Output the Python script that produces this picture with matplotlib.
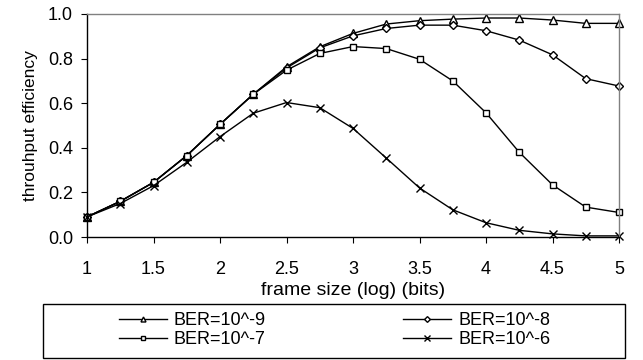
import matplotlib
matplotlib.use('Agg')
import matplotlib.pyplot as plt
from matplotlib.patches import Rectangle

# frame size (log) in bits
frame_size = [1.0, 1.25, 1.5, 1.75, 2.0, 2.25, 2.5, 2.75, 3.0,
              3.25, 3.5, 3.75, 4.0, 4.25, 4.5, 4.75, 5.0]

# throughput efficiency per BER
ber_9 = [0.09, 0.16, 0.245, 0.365, 0.505, 0.64, 0.763, 0.853, 0.913,
         0.955, 0.97, 0.977, 0.982, 0.982, 0.973, 0.958, 0.958]
ber_8 = [0.09, 0.16, 0.245, 0.365, 0.505, 0.64, 0.758, 0.848, 0.902,
         0.935, 0.95, 0.95, 0.925, 0.883, 0.817, 0.71, 0.677]
ber_7 = [0.09, 0.16, 0.245, 0.365, 0.505, 0.64, 0.748, 0.823, 0.854,
         0.845, 0.797, 0.70, 0.557, 0.38, 0.234, 0.134, 0.11]
ber_6 = [0.09, 0.15, 0.23, 0.335, 0.45, 0.555, 0.603, 0.58, 0.487,
         0.354, 0.22, 0.122, 0.064, 0.03, 0.014, 0.005, 0.005]

labels = ['BER=10^-9', 'BER=10^-8', 'BER=10^-7', 'BER=10^-6']
markers = ['^', 'D', 's', 'x']
msizes = [5.5, 4.5, 5, 6]

plt.rcParams['font.family'] = ['Liberation Sans', 'DejaVu Sans']

fig = plt.figure(figsize=(6.43, 3.6), dpi=100)
ax = fig.add_axes([87 / 643, 1 - 237 / 360, (619 - 87) / 643, (237 - 14) / 360])

lines = []
for ys, lab, m, ms in zip([ber_9, ber_8, ber_7, ber_6], labels, markers, msizes):
    ln, = ax.plot(frame_size, ys, color='black', lw=1.0, marker=m, markersize=ms,
                  markerfacecolor='white', markeredgecolor='black',
                  markeredgewidth=1.0, label=lab, clip_on=False)
    lines.append(ln)

ax.set_xlim(1, 5)
ax.set_ylim(0, 1.0)
ax.set_xticks([1, 1.5, 2, 2.5, 3, 3.5, 4, 4.5, 5])
ax.set_xticklabels(['1', '1.5', '2', '2.5', '3', '3.5', '4', '4.5', '5'])
ax.set_yticks([0, 0.2, 0.4, 0.6, 0.8, 1.0])
ax.set_yticklabels(['0.0', '0.2', '0.4', '0.6', '0.8', '1.0'])
ax.tick_params(axis='x', direction='out', length=4, width=0.8, pad=13, labelsize=13)
ax.tick_params(axis='y', direction='out', length=4, width=0.8, pad=6, labelsize=13)

for side in ['top', 'right']:
    ax.spines[side].set_color('#808080')
    ax.spines[side].set_linewidth(1.0)
for side in ['left', 'bottom']:
    ax.spines[side].set_color('black')
    ax.spines[side].set_linewidth(1.0)

ax.set_xlabel('frame size (log) (bits)', fontsize=14, labelpad=3)
ax.set_ylabel('throuhput efficiency', fontsize=12.5, labelpad=7)

# legend box below the plot
fig.patches.append(Rectangle((43 / 643, 2 / 360), (625 - 43) / 643, 54 / 360,
                             transform=fig.transFigure, fill=False,
                             edgecolor='black', lw=1.0))
# column-first fill: 10^-9, 10^-7 | 10^-8, 10^-6
order = [0, 2, 1, 3]
fig.legend(handles=[lines[i] for i in order],
           labels=[labels[i] for i in order], ncol=2, loc='upper left',
           bbox_to_anchor=(110 / 643, 1 - 303 / 360), frameon=False,
           fontsize=13, handlelength=2.65, handletextpad=0.39,
           columnspacing=7.6, labelspacing=0.1, borderpad=0,
           markerscale=0.65)

fig.savefig('out.png', dpi=100)
